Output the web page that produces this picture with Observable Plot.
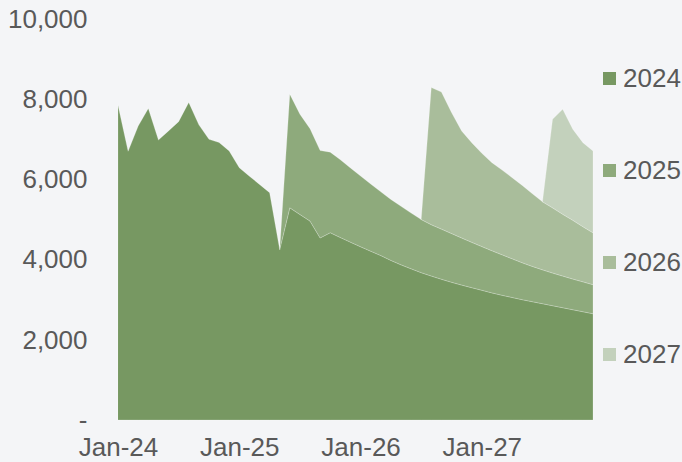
<!DOCTYPE html>
<html>
<head>
<meta charset="utf-8">
<script src="https://cdn.jsdelivr.net/npm/d3@7"></script>
<script src="https://cdn.jsdelivr.net/npm/@observablehq/plot@0.6"></script>
<style>
  html, body { margin: 0; padding: 0; background: #f4f5f7; overflow: hidden; }
  #wrap { position: relative; width: 682px; height: 462px; font-family: "Liberation Sans", Arial, sans-serif; }
  #legend { position: absolute; left: 603px; top: 32px; color: #595959; font-size: 26px; }
  .item { height: 92px; display: flex; align-items: center; }
  .sw { width: 13px; height: 13px; margin-right: 7px; }
</style>
</head>
<body>
<div id="wrap"><div id="legend"></div></div>
<script>
// Month categories Jan-24 .. Dec-27
const years = ["24", "25", "26", "27"];
const monthNames = ["Jan","Feb","Mar","Apr","May","Jun","Jul","Aug","Sep","Oct","Nov","Dec"];
const months = years.flatMap(y => monthNames.map(m => `${m}-${y}`));

const cohorts = ["2024", "2025", "2026", "2027"];
const colors = ["#779862", "#8eaa7c", "#a9bd9b", "#c3d1bc"];

const s2024 = [7850, 6700, 7330, 7770, 6980, 7210, 7440, 7920, 7360, 7000, 6920, 6710,
               6290, 6080, 5875, 5670, 4250, 5290, 5125, 4960, 4540, 4670, 4550, 4435,
               4320, 4210, 4100, 3980, 3870, 3770, 3675, 3590, 3510, 3435, 3365, 3300,
               3235, 3170, 3110, 3055, 3000, 2950, 2900, 2850, 2800, 2750, 2700, 2650];
const s2025 = [null, null, null, null, null, null, null, null, null, null, null, null,
               null, null, null, null, 0, 2835, 2500, 2305, 2180, 2010, 1940, 1850,
               1765, 1675, 1590, 1520, 1460, 1390, 1325, 1280, 1250, 1215, 1175, 1130,
               1090, 1050, 1010, 965, 920, 880, 845, 815, 790, 765, 745, 725];
const s2026 = [null, null, null, null, null, null, null, null, null, null, null, null,
               null, null, null, null, null, null, null, null, null, null, null, null,
               null, null, null, null, null, null, 0, 3420, 3420, 3017, 2668, 2487,
               2325, 2197, 2113, 2022, 1930, 1812, 1697, 1625, 1540, 1465, 1375, 1292];
const s2027 = [null, null, null, null, null, null, null, null, null, null, null, null,
               null, null, null, null, null, null, null, null, null, null, null, null,
               null, null, null, null, null, null, null, null, null, null, null, null,
               null, null, null, null, null, null, 0, 2210, 2620, 2270, 2097, 2041];

const xTicks = ["Jan-24", "Jan-25", "Jan-26", "Jan-27"];
const yTicks = [0, 2000, 4000, 6000, 8000, 10000];

const seriesValues = [s2024, s2025, s2026, s2027];
const rows = [];
seriesValues.forEach((vals, k) => vals.forEach((v, i) => {
  if (v != null) rows.push({ month: i, cohort: cohorts[k], value: v });
}));

const fmt = d3.format(",");
const chart = Plot.plot({
  width: 682,
  height: 462,
  marginLeft: 118,
  marginRight: 89,
  marginTop: 19,
  marginBottom: 42,
  style: { background: "#f4f5f7", fontFamily: "Liberation Sans, Arial, sans-serif", color: "#595959" },
  x: { domain: [0, months.length - 1] },
  y: { domain: [0, 10000] },
  color: { domain: cohorts, range: colors },
  marks: [
    Plot.areaY(rows, { x: "month", y: "value", z: "cohort", fill: "cohort", stroke: "#ffffff", strokeOpacity: 0.3, strokeWidth: 0.7 }),
    Plot.axisX(xTicks.map(t => months.indexOf(t)), { tickSize: 0, tickPadding: 17, fontSize: 26, tickFormat: i => months[i], label: null }),
    Plot.axisY(yTicks, { tickSize: 0, tickPadding: 31, fontSize: 26, tickFormat: d => d === 0 ? "-" : fmt(d), label: null })
  ]
});
document.getElementById("wrap").prepend(chart);

const legend = document.getElementById("legend");
cohorts.forEach((c, k) => {
  const item = document.createElement("div");
  item.className = "item";
  const sw = document.createElement("div");
  sw.className = "sw";
  sw.style.background = colors[k];
  const tx = document.createElement("span");
  tx.textContent = c;
  item.append(sw, tx);
  legend.append(item);
});
</script>
</body>
</html>
